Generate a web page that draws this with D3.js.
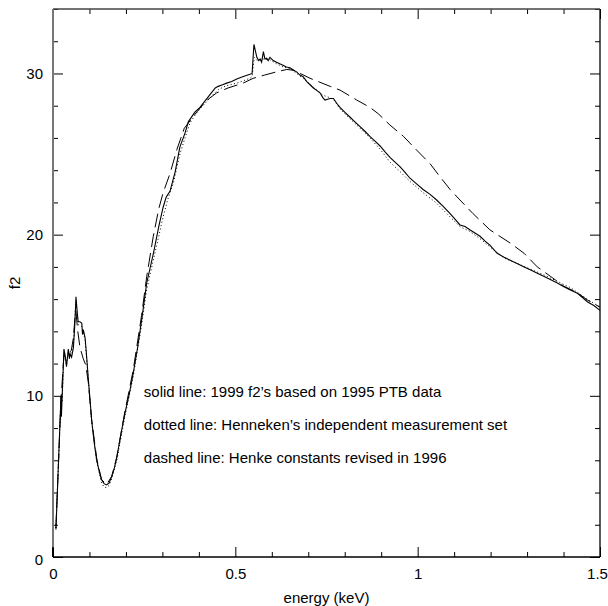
<!DOCTYPE html>
<html><head><meta charset="utf-8">
<script src="https://cdn.jsdelivr.net/npm/d3@7"></script>
<style>body{margin:0;background:#fff}svg{display:block}text{font-family:"Liberation Sans",Arial,sans-serif;fill:#000}</style>
</head><body>
<svg id="c" width="608" height="606"></svg>
<script>
const xMajor = [0, 0.5, 1, 1.5];
const xMajorLabels = ["0", "0.5", "1", "1.5"];
const yMajor = [0, 10, 20, 30];
const yMajorLabels = ["0", "10", "20", "30"];
const xMinor = [0.1,0.2,0.3,0.4,0.6,0.7,0.8,0.9,1.1,1.2,1.3,1.4];
const yMinor = [2,4,6,8,12,14,16,18,22,24,26,28,32,34];
const xTitle = "energy (keV)";
const yTitle = "f2";
const legendLines = [
  "solid line: 1999 f2\u2019s based on 1995 PTB data",
  "dotted line: Henneken\u2019s independent measurement set",
  "dashed line: Henke constants revised in 1996"
];

const solid = [[0.008,1.7],[0.022,10.0],[0.023,8.7],[0.025,9.9],[0.030,12.9],[0.034,12.4],[0.037,11.8],[0.042,12.9],[0.045,12.3],[0.047,12.6],[0.051,12.4],[0.056,13.0],[0.060,14.5],[0.063,16.15],[0.066,15.3],[0.069,14.6],[0.074,14.6],[0.079,14.5],[0.081,13.8],[0.083,14.1],[0.088,13.6],[0.092,12.5],[0.097,11.0],[0.106,8.5],[0.113,7.1],[0.120,6.0],[0.127,5.3],[0.133,4.8],[0.140,4.55],[0.147,4.47],[0.154,4.6],[0.161,5.0],[0.168,5.5],[0.175,6.2],[0.186,7.6],[0.197,8.9],[0.209,10.1],[0.220,11.4],[0.232,13.0],[0.243,14.7],[0.257,17.0],[0.275,18.8],[0.290,20.5],[0.302,21.7],[0.310,22.3],[0.321,22.7],[0.335,23.9],[0.348,25.45],[0.362,26.3],[0.371,27.0],[0.389,27.6],[0.403,27.9],[0.417,28.3],[0.431,28.7],[0.445,29.1],[0.453,29.2],[0.465,29.3],[0.476,29.4],[0.490,29.5],[0.504,29.65],[0.520,29.8],[0.540,29.95],[0.546,30.0],[0.551,31.8],[0.555,31.4],[0.559,31.0],[0.564,30.8],[0.568,30.9],[0.572,30.7],[0.577,31.35],[0.581,30.9],[0.586,30.95],[0.590,30.8],[0.595,31.0],[0.604,30.8],[0.613,30.7],[0.622,30.6],[0.632,30.5],[0.640,30.4],[0.650,30.35],[0.660,30.2],[0.668,30.1],[0.677,29.9],[0.686,29.8],[0.696,29.5],[0.705,29.3],[0.714,29.1],[0.723,28.95],[0.732,28.8],[0.740,28.5],[0.746,28.35],[0.753,28.4],[0.760,28.45],[0.769,28.45],[0.778,28.15],[0.787,27.9],[0.800,27.6],[0.814,27.3],[0.828,27.0],[0.842,26.7],[0.856,26.4],[0.869,26.1],[0.883,25.8],[0.897,25.5],[0.910,25.15],[0.924,24.8],[0.938,24.5],[0.952,24.2],[0.966,23.85],[0.979,23.5],[0.997,23.15],[1.015,22.8],[1.034,22.5],[1.052,22.15],[1.070,21.75],[1.089,21.3],[1.103,20.95],[1.116,20.6],[1.130,20.5],[1.143,20.3],[1.157,20.1],[1.171,19.9],[1.185,19.6],[1.198,19.35],[1.218,18.84],[1.237,18.6],[1.255,18.4],[1.274,18.2],[1.292,18.0],[1.310,17.8],[1.328,17.6],[1.347,17.4],[1.365,17.2],[1.383,17.0],[1.401,16.77],[1.420,16.55],[1.438,16.36],[1.452,16.1],[1.465,15.84],[1.483,15.6],[1.5,15.3]];

const dotted = [[0.008,1.8],[0.022,10.0],[0.025,9.6],[0.030,12.7],[0.037,11.9],[0.042,12.8],[0.047,12.5],[0.056,13.2],[0.060,14.8],[0.063,15.9],[0.066,15.0],[0.070,14.4],[0.079,14.3],[0.088,13.5],[0.097,11.0],[0.106,8.4],[0.120,5.9],[0.133,4.6],[0.140,4.35],[0.147,4.3],[0.154,4.45],[0.161,4.85],[0.175,6.0],[0.197,8.7],[0.220,11.2],[0.243,14.4],[0.257,16.6],[0.275,18.4],[0.290,19.9],[0.302,21.1],[0.315,22.2],[0.330,23.2],[0.348,25.0],[0.362,26.0],[0.375,26.9],[0.389,27.4],[0.403,27.8],[0.431,28.5],[0.453,29.0],[0.476,29.25],[0.504,29.4],[0.540,29.7],[0.546,29.8],[0.552,31.0],[0.560,30.8],[0.577,30.9],[0.595,30.85],[0.613,30.6],[0.632,30.4],[0.650,30.3],[0.668,30.0],[0.686,29.7],[0.705,29.3],[0.723,29.0],[0.740,28.65],[0.753,28.55],[0.769,28.4],[0.787,27.8],[0.814,27.2],[0.842,26.6],[0.869,26.0],[0.897,25.3],[0.924,24.5],[0.952,23.9],[0.979,23.3],[1.015,22.6],[1.052,21.95],[1.089,21.1],[1.116,20.5],[1.143,20.2],[1.171,19.75],[1.198,19.25],[1.237,18.55],[1.274,18.2],[1.310,17.85],[1.347,17.5],[1.383,17.1],[1.420,16.7],[1.465,16.0],[1.5,15.5]];

const dashed = [[0.008,1.8],[0.022,9.8],[0.030,12.5],[0.040,12.6],[0.050,12.8],[0.056,13.6],[0.060,14.8],[0.063,15.2],[0.068,14.0],[0.074,13.0],[0.083,12.3],[0.090,11.9],[0.097,10.8],[0.106,8.5],[0.120,6.1],[0.133,4.8],[0.147,4.5],[0.161,5.0],[0.175,6.2],[0.197,9.0],[0.220,11.6],[0.243,15.0],[0.257,17.4],[0.275,19.9],[0.290,21.6],[0.302,22.6],[0.321,23.8],[0.340,25.3],[0.360,26.6],[0.394,27.6],[0.420,28.3],[0.449,28.8],[0.480,29.1],[0.521,29.4],[0.549,29.7],[0.580,29.9],[0.613,30.1],[0.641,30.25],[0.660,30.2],[0.705,29.7],[0.760,29.2],[0.787,28.97],[0.833,28.35],[0.869,27.9],[0.892,27.5],[0.924,26.8],[0.961,26.1],[0.997,25.25],[1.034,24.4],[1.061,23.6],[1.089,22.8],[1.116,22.15],[1.152,21.3],[1.198,20.3],[1.255,19.46],[1.292,18.84],[1.328,18.0],[1.365,17.4],[1.401,16.8],[1.438,16.4],[1.465,15.95],[1.5,15.5]];

const m = {l:53, t:9, r:8, b:49};
const W = 608, H = 606;
const w = W - m.l - m.r, h = H - m.t - m.b;
const svg = d3.select("#c");
const g = svg.append("g").attr("transform", `translate(${m.l},${m.t})`);
const x = d3.scaleLinear().domain([0, 1.5]).range([0, w]);
const y = d3.scaleLinear().domain([0, 34]).range([h, 0]);

function styleAxis(sel){
  sel.select(".domain").remove();
  sel.selectAll("line").attr("stroke","#000").attr("stroke-width",1);
  sel.selectAll("text").style("font-size","15px").style("font-family",'"Liberation Sans",Arial,sans-serif');
}
// bottom
const bx = g.append("g").attr("transform",`translate(0,${h})`).call(d3.axisBottom(x).tickValues(xMajor).tickFormat((d,i)=>xMajorLabels[i]).tickSizeInner(-10).tickSizeOuter(0).tickPadding(11)).call(styleAxis);
bx.selectAll("text").filter(d=>d===1.5).attr("dx","-3");
g.append("g").attr("transform",`translate(0,${h})`).call(d3.axisBottom(x).tickValues(xMinor).tickFormat("").tickSizeInner(-5).tickSizeOuter(0)).call(styleAxis);
// top
g.append("g").call(d3.axisTop(x).tickValues(xMajor).tickFormat("").tickSizeInner(-10).tickSizeOuter(0)).call(styleAxis);
g.append("g").call(d3.axisTop(x).tickValues(xMinor).tickFormat("").tickSizeInner(-5).tickSizeOuter(0)).call(styleAxis);
// left
const ly = g.append("g").call(d3.axisLeft(y).tickValues(yMajor).tickFormat((d,i)=>yMajorLabels[i]).tickSizeInner(-10).tickSizeOuter(0).tickPadding(10)).call(styleAxis);
ly.selectAll("text").filter(d=>d===0).attr("dy","0.5em");
g.append("g").call(d3.axisLeft(y).tickValues(yMinor).tickFormat("").tickSizeInner(-5).tickSizeOuter(0)).call(styleAxis);
// right
g.append("g").attr("transform",`translate(${w},0)`).call(d3.axisRight(y).tickValues(yMajor).tickFormat("").tickSizeInner(-10).tickSizeOuter(0)).call(styleAxis);
g.append("g").attr("transform",`translate(${w},0)`).call(d3.axisRight(y).tickValues(yMinor).tickFormat("").tickSizeInner(-5).tickSizeOuter(0)).call(styleAxis);

// frame
g.append("line").attr("x1",0).attr("x2",w).attr("y1",h).attr("y2",h).attr("stroke","#000").attr("stroke-width",1.3);
g.append("line").attr("x1",w).attr("x2",w).attr("y1",0).attr("y2",h).attr("stroke","#000").attr("stroke-width",1.3);
g.append("line").attr("x1",0).attr("x2",w).attr("y1",0).attr("y2",0).attr("stroke","#444").attr("stroke-width",1.5);
g.append("line").attr("x1",0).attr("x2",0).attr("y1",0).attr("y2",h).attr("stroke","#777").attr("stroke-width",2);
g.append("line").attr("x1",0).attr("x2",0).attr("y1",y(0.6)).attr("y2",h).attr("stroke","#000").attr("stroke-width",2);

const line = d3.line().x(d=>x(d[0])).y(d=>y(d[1]));
g.append("path").datum(dotted).attr("d",line).attr("fill","none").attr("stroke","#000").attr("stroke-width",1).attr("stroke-dasharray","1,2.5");
g.append("path").datum(dashed).attr("d",line).attr("fill","none").attr("stroke","#000").attr("stroke-width",1).attr("stroke-dasharray","14,6");
g.append("path").datum(solid).attr("d",line).attr("fill","none").attr("stroke","#000").attr("stroke-width",1.1);

// legend text
legendLines.forEach((t,i)=>{
  g.append("text").attr("x",x(0.249)).attr("y",y(10.25) + i*33).attr("dy","0.35em").style("font-size","15px").text(t);
});

// titles
svg.append("text").attr("x", m.l + w/2).attr("y", 598).attr("dy","0.35em").attr("text-anchor","middle").style("font-size","15px").text(xTitle);
svg.append("text").attr("transform",`translate(15,${m.t + h/2}) rotate(-90)`).attr("dy","0.35em").attr("text-anchor","middle").style("font-size","15px").text(yTitle);
</script>
</body></html>
